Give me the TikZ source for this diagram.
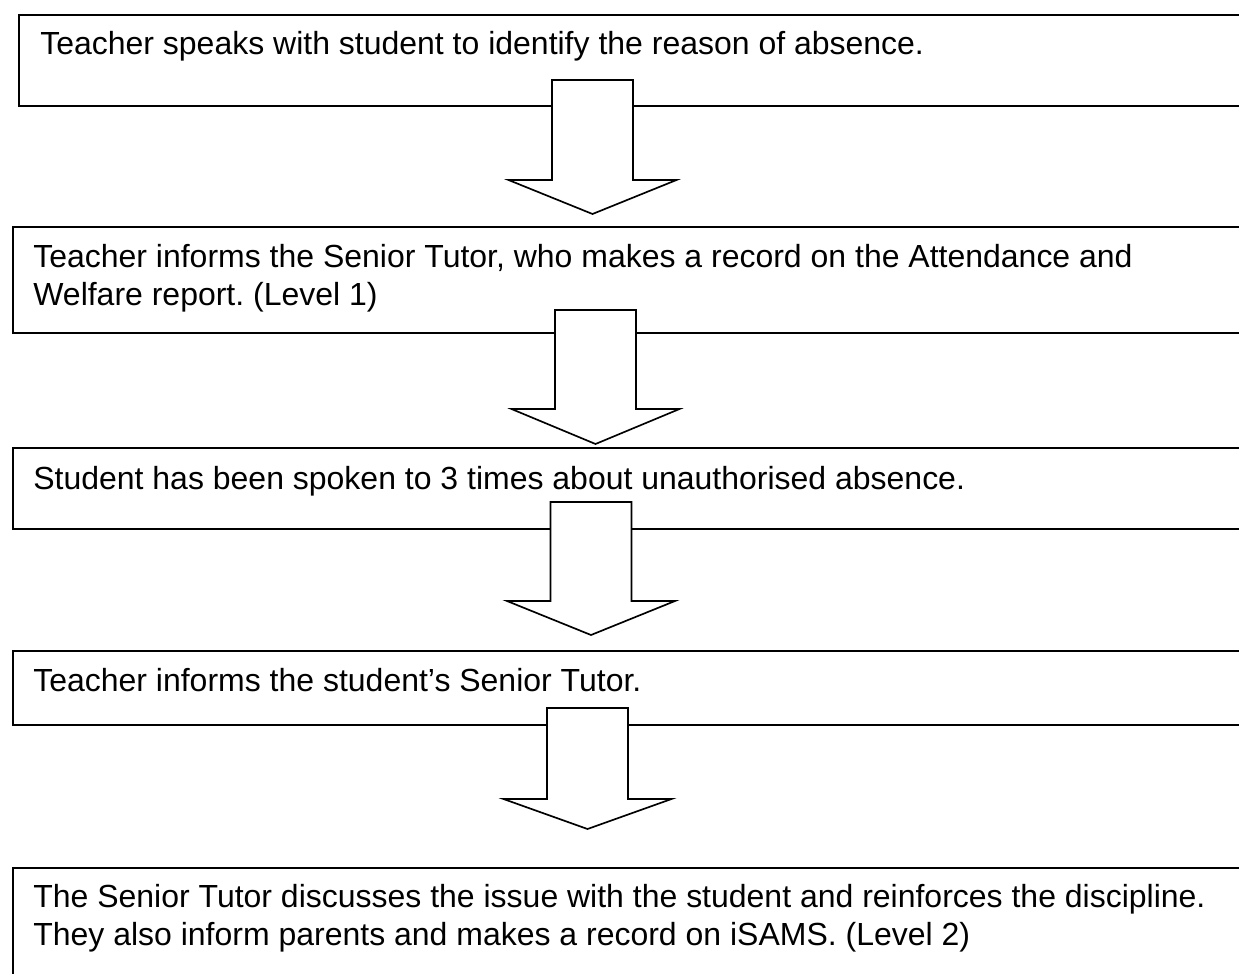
\documentclass[tikz,border=0pt]{standalone}
\usepackage{fontspec}
\setmainfont{Liberation Sans}
\usepackage{tikz}
\frenchspacing

\tikzset{
  stepbox/.style={draw, line width=0.95pt, rectangle, anchor=north west, minimum width=25.2cm},
  steptext/.style={anchor=base west, align=left, inner sep=0pt,
    font=\fontsize{18.2pt}{21.6pt}\selectfont},
  blockarrow/.style={draw, fill=white, line width=0.95pt, line join=miter}
}

\begin{document}
\begin{tikzpicture}
    \clip (0,0) rectangle (24.78,-19.46);

    \node (box1) [stepbox, minimum height=1.82cm] at (0.36,-0.28) {};
    \node (box2) [stepbox, minimum height=2.12cm] at (0.24,-4.52) {};
    \node (box3) [stepbox, minimum height=1.62cm] at (0.24,-8.94) {};
    \node (box4) [stepbox, minimum height=1.48cm] at (0.24,-13.00) {};
    \node (box5) [stepbox, minimum height=2.60cm] at (0.24,-17.34) {};

    % two-line texts sit on the baseline of their last line
    \node (txt1) [steptext] at (0.80,-1.10) {Teacher speaks with student to identify the reason of absence.};
    \node (txt2) [steptext] at (0.66,-6.10) {Teacher informs the Senior Tutor, who makes a record on the Attendance and\\Welfare report. (Level 1)};
    \node (txt3) [steptext] at (0.66,-9.78) {Student has been spoken to 3 times about unauthorised absence.};
    \node (txt4) [steptext] at (0.66,-13.82) {Teacher informs the student’s Senior Tutor.};
    \node (txt5) [steptext] at (0.66,-18.90) {The Senior Tutor discusses the issue with the student and reinforces the discipline.\\They also inform parents and makes a record on iSAMS. (Level 2)};

    % block arrows: top of shaft, shaft length, head length
    \coordinate (arr1) at (11.85,-1.60);
    \coordinate (arr2) at (11.91,-6.20);
    \coordinate (arr3) at (11.82,-10.04);
    \coordinate (arr4) at (11.75,-14.16);

    \foreach \a/\s/\h in {arr1/2.00/0.68, arr2/1.98/0.70, arr3/1.98/0.68, arr4/1.82/0.60}
      \draw[blockarrow] (\a) ++(-0.81,0) -- ++(1.62,0) -- ++(0,-\s) -- ++(0.87,0)
        -- ++(-1.68,-\h) -- ++(-1.68,\h) -- ++(0.87,0) -- cycle;
\end{tikzpicture}
\end{document}
